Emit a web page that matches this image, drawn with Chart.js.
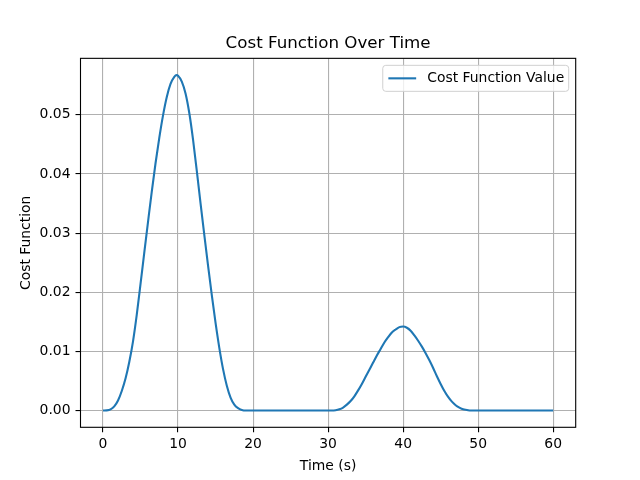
<!DOCTYPE html>
<html lang="en">

<head>
    <meta charset="UTF-8">
    <title>Cost Function Over Time</title>
    <script src="https://cdn.jsdelivr.net/npm/chart.js"></script>
    <style>
        body {
            margin: 0;
            background: #fff;
        }

        #chart-box {
            width: 640px;
            height: 480px;
        }
    </style>
</head>

<body>

    <div id="chart-box"><canvas id="cost-chart"></canvas></div>

    <script>
        // Time (s) (finer steps where the curve moves)
        const times = [
            0, 0.5, 1, 1.5, 2, 2.5, 3, 3.5, 4, 4.5, 5, 5.5, 6, 6.5, 7, 7.5, 8, 8.5, 9, 9.5, 9.8,
            10, 10.5, 11, 11.5, 12, 12.5, 13, 13.5, 14, 14.5, 15, 15.5, 16, 16.5, 17, 17.5, 18, 18.5, 19,
            20, 21, 22, 23, 24, 25, 26, 27, 28, 29,
            30, 30.5, 31, 31.5, 32, 32.5, 33, 33.5, 34, 34.5, 35, 35.5, 36, 36.5, 37, 37.5, 38, 38.5, 39, 39.5,
            40, 40.5, 41, 41.5, 42, 42.5, 43, 43.5, 44, 44.5, 45, 45.5, 46, 46.5, 47, 47.5, 48, 48.5, 49,
            50, 51, 52, 53, 54, 55, 56, 57, 58, 59, 60
        ];
        const costValues = [
            0, 0.00003, 0.0002, 0.0007, 0.0017, 0.0033, 0.0054, 0.0082, 0.0117, 0.0162, 0.0214, 0.0267, 0.0319, 0.0370, 0.0418, 0.0461, 0.0499, 0.0530, 0.0552, 0.0564, 0.0567,
            0.0566, 0.0556, 0.0536, 0.0503, 0.0458, 0.0405, 0.0350, 0.0297, 0.0245, 0.0195, 0.0148, 0.0106, 0.0070, 0.0042, 0.0022, 0.0010, 0.0004, 0.0001, 0,
            0, 0, 0, 0, 0, 0, 0, 0, 0, 0,
            0, 0, 0.00005, 0.0002, 0.0005, 0.0010, 0.0016, 0.0024, 0.0034, 0.0045, 0.0057, 0.0069, 0.0081, 0.0093, 0.0104, 0.0115, 0.0124, 0.0132, 0.0137, 0.0141,
            0.0142, 0.0140, 0.0135, 0.0127, 0.0118, 0.0108, 0.0097, 0.0085, 0.0072, 0.0058, 0.0045, 0.0033, 0.0023, 0.0015, 0.0009, 0.0005, 0.0002, 0.0001, 0,
            0, 0, 0, 0, 0, 0, 0, 0, 0, 0, 0
        ];
        const xTicks = [0, 10, 20, 30, 40, 50, 60];
        const yTicks = [0, 0.01, 0.02, 0.03, 0.04, 0.05];
        const seriesLabel = 'Cost Function Value';

        const FONT = 'DejaVu Sans';
        const LINE_BLUE = '#1f77b4';

        // top and right spines
        const frame = {
            id: 'frame',
            afterDraw(chart) {
                const { ctx, chartArea: a } = chart;
                ctx.save();
                ctx.strokeStyle = '#000';
                ctx.lineWidth = 1.1;
                ctx.strokeRect(a.left, a.top, a.right - a.left, a.bottom - a.top);
                ctx.restore();
            }
        };

        // matplotlib-like legend in the upper right corner
        const innerLegend = {
            id: 'innerLegend',
            afterDraw(chart) {
                const { ctx, chartArea: a } = chart;
                ctx.save();
                ctx.font = '13.9px "' + FONT + '"';
                const textW = ctx.measureText(seriesLabel).width;
                const right = a.right - 7;
                const top = a.top + 7;
                const w = 5.6 + 27.8 + 11.1 + textW + 4.5;
                const h = 26;
                const left = right - w;
                ctx.beginPath();
                ctx.roundRect(left, top, w, h, 3);
                ctx.fillStyle = 'rgba(255,255,255,0.8)';
                ctx.fill();
                ctx.strokeStyle = '#d0d0d0';
                ctx.lineWidth = 1;
                ctx.stroke();
                const cy = top + h / 2;
                ctx.beginPath();
                ctx.moveTo(left + 5.6, cy);
                ctx.lineTo(left + 5.6 + 27.8, cy);
                ctx.strokeStyle = LINE_BLUE;
                ctx.lineWidth = 2.1;
                ctx.stroke();
                ctx.fillStyle = '#000';
                ctx.textBaseline = 'middle';
                ctx.fillText(seriesLabel, left + 5.6 + 27.8 + 11.1, cy);
                ctx.restore();
            }
        };

        const ctx = document.getElementById('cost-chart').getContext('2d');
        const chart = new Chart(ctx, {
            type: 'line',
            data: {
                datasets: [{
                    label: seriesLabel,
                    data: times.map((t, i) => ({ x: t, y: costValues[i] })),
                    borderColor: LINE_BLUE,
                    borderWidth: 2.1,
                    pointRadius: 0,
                    cubicInterpolationMode: 'monotone',
                    fill: false
                }]
            },
            plugins: [frame, innerLegend],
            options: {
                responsive: true,
                maintainAspectRatio: false,
                animation: false,
                layout: { padding: { top: 0, right: 64.3, bottom: 0, left: 0 } },
                plugins: {
                    legend: { display: false },
                    tooltip: { enabled: false },
                    title: {
                        display: true,
                        text: 'Cost Function Over Time',
                        fullSize: false,
                        color: '#000',
                        font: { family: FONT, size: 16.7, weight: 'normal', lineHeight: 1.2 },
                        padding: { top: 34, bottom: 4.3 }
                    }
                },
                scales: {
                    x: {
                        type: 'linear',
                        min: -3,
                        max: 63,
                        afterFit: s => { s.height = 52.7; },
                        afterBuildTicks: s => { s.ticks = xTicks.map(v => ({ value: v })); },
                        ticks: {
                            color: '#000',
                            padding: 4,
                            maxRotation: 0,
                            font: { family: FONT, size: 13.9 },
                            callback: v => String(v)
                        },
                        grid: {
                            color: '#b0b0b0',
                            lineWidth: 1.1,
                            tickColor: '#000',
                            tickWidth: 1.1,
                            tickLength: 5
                        },
                        border: { display: false },
                        title: {
                            display: true,
                            text: 'Time (s)',
                            color: '#000',
                            font: { family: FONT, size: 13.9 },
                            padding: { top: 0, bottom: 5.6 }
                        }
                    },
                    y: {
                        type: 'linear',
                        min: -0.002835,
                        max: 0.059535,
                        afterFit: s => { s.width = 80.5; },
                        afterBuildTicks: s => { s.ticks = yTicks.map(v => ({ value: v })); },
                        ticks: {
                            color: '#000',
                            padding: 5,
                            font: { family: FONT, size: 13.9 },
                            callback: v => Number(v).toFixed(2)
                        },
                        grid: {
                            color: '#b0b0b0',
                            lineWidth: 1.1,
                            tickColor: '#000',
                            tickWidth: 1.1,
                            tickLength: 5
                        },
                        border: { display: false },
                        title: {
                            display: true,
                            text: 'Cost Function',
                            color: '#000',
                            font: { family: FONT, size: 13.9 },
                            padding: { top: 17.9, bottom: 0 }
                        }
                    }
                }
            }
        });
    </script>
</body>

</html>
